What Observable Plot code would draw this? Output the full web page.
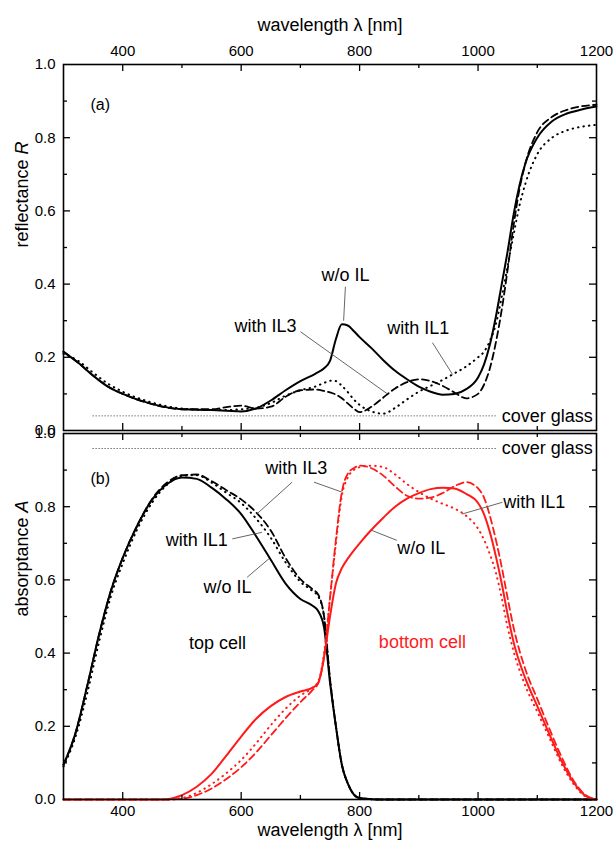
<!DOCTYPE html>
<html><head><meta charset="utf-8">
<script src="https://cdn.jsdelivr.net/npm/d3@7"></script>
<script src="https://cdn.jsdelivr.net/npm/@observablehq/plot@0.6"></script>
<style>
body{margin:0;background:#fff;}
#chart{position:relative;width:613px;height:848px;font-family:"Liberation Sans",Arial,sans-serif;}
#chart svg{position:absolute;left:0;overflow:visible;}
</style></head><body><div id="chart"></div>
<script>
// ---- data: panel (a) reflectance ----
const lamT = [300,325,350,375,400,450,500,550,575,600,625,650,675,700,725,740,750,760,770,780,790,800,820,840,860,880,900,920,940,960,980,1000,1010,1020,1030,1040,1050,1060,1070,1080,1100,1125,1150,1175,1200];
const R_woIL = [0.215,0.185,0.15,0.12,0.1,0.072,0.058,0.056,0.054,0.052,0.06,0.082,0.11,0.135,0.155,0.17,0.19,0.25,0.29,0.287,0.272,0.255,0.225,0.192,0.163,0.14,0.12,0.106,0.098,0.1,0.113,0.145,0.18,0.235,0.31,0.4,0.49,0.59,0.67,0.73,0.8,0.845,0.866,0.877,0.885];
const R_IL3 = [0.215,0.185,0.15,0.12,0.1,0.072,0.058,0.058,0.064,0.068,0.06,0.065,0.092,0.11,0.112,0.108,0.104,0.098,0.088,0.074,0.06,0.05,0.065,0.09,0.115,0.132,0.14,0.135,0.122,0.104,0.088,0.1,0.125,0.17,0.24,0.33,0.44,0.56,0.66,0.73,0.815,0.857,0.876,0.886,0.89];
const R_IL1 = [0.21,0.19,0.158,0.128,0.106,0.076,0.06,0.056,0.056,0.058,0.062,0.075,0.095,0.11,0.12,0.13,0.136,0.135,0.122,0.105,0.085,0.07,0.052,0.046,0.062,0.085,0.106,0.122,0.138,0.156,0.175,0.2,0.215,0.245,0.29,0.365,0.45,0.535,0.615,0.675,0.755,0.8,0.82,0.83,0.835];
const coverR = 0.04;

// ---- data: panel (b) absorptance ----
const lamB = [300,320,340,360,380,400,425,450,475,500,525,550,575,600,625,650,675,700,720,730,740,750,760,770,780,790,800,820,840,860,880,900,920,940,960,980,1000,1010,1020,1030,1040,1050,1060,1080,1100,1120,1140,1160,1180,1200];
const Atop_woIL = [0.095,0.18,0.31,0.45,0.57,0.66,0.75,0.82,0.862,0.88,0.876,0.852,0.82,0.78,0.72,0.655,0.59,0.548,0.53,0.515,0.47,0.32,0.2,0.095,0.044,0.014,0.004,0.001,0,0,0,0,0,0,0,0,0,0,0,0,0,0,0,0,0,0,0,0,0,0];
const Atop_IL3 = [0.095,0.18,0.31,0.45,0.57,0.66,0.75,0.822,0.866,0.886,0.888,0.87,0.845,0.82,0.785,0.735,0.66,0.602,0.575,0.56,0.5,0.33,0.2,0.095,0.044,0.014,0.004,0.001,0,0,0,0,0,0,0,0,0,0,0,0,0,0,0,0,0,0,0,0,0,0];
const Atop_IL1 = [0.09,0.17,0.29,0.43,0.555,0.645,0.74,0.812,0.86,0.884,0.886,0.866,0.838,0.81,0.768,0.715,0.648,0.595,0.57,0.555,0.5,0.33,0.2,0.095,0.044,0.014,0.004,0.001,0,0,0,0,0,0,0,0,0,0,0,0,0,0,0,0,0,0,0,0,0,0];
const Abot_woIL = [0,0,0,0,0,0,0,0,0.001,0.012,0.035,0.07,0.12,0.172,0.22,0.255,0.28,0.295,0.305,0.318,0.39,0.5,0.59,0.632,0.658,0.68,0.7,0.737,0.77,0.8,0.822,0.837,0.848,0.852,0.85,0.835,0.81,0.78,0.73,0.665,0.59,0.505,0.43,0.33,0.255,0.18,0.108,0.05,0.012,0];
const Abot_IL1 = [0,0,0,0,0,0,0,0,0,0.004,0.018,0.042,0.072,0.108,0.153,0.203,0.248,0.284,0.305,0.322,0.4,0.55,0.7,0.83,0.88,0.9,0.908,0.912,0.908,0.888,0.862,0.84,0.822,0.808,0.795,0.775,0.74,0.71,0.67,0.62,0.55,0.47,0.405,0.31,0.24,0.17,0.1,0.045,0.01,0];
const Abot_IL3 = [0,0,0,0,0,0,0,0,0,0.002,0.012,0.03,0.056,0.088,0.128,0.175,0.222,0.266,0.298,0.318,0.39,0.55,0.71,0.84,0.89,0.905,0.912,0.905,0.885,0.855,0.83,0.822,0.825,0.837,0.856,0.867,0.85,0.825,0.775,0.71,0.635,0.55,0.47,0.355,0.275,0.195,0.12,0.055,0.014,0];
const coverA = 0.959;

// ---- tick values ----
const xTickLabels = [400,600,800,1000,1200];
const xMajor = [400,600,800,1000];
const xMinor = [500,700,900,1100];
const yTickLabels = [0,0.2,0.4,0.6,0.8,1.0];
const yMajor = [0.2,0.4,0.6,0.8];
const yMinor = [0.1,0.3,0.5,0.7,0.9];

// ---- layout ----
const W = 613, ML = 63, MR = 17;
const FONT = "'Liberation Sans', Arial, sans-serif";
const RED = "#ff1a1a";
const LEAD = "#555";

const solid = {strokeWidth: 2};
const dashed = {strokeWidth: 1.8, strokeDasharray: "7,4"};
const dotted = {strokeWidth: 2, strokeDasharray: "0.5,5", strokeLinecap: "round"};

function series(lam, vals, color, style) {
  return Plot.line(lam, {x: d => d, y: (d, i) => vals[i], stroke: color, curve: "monotone-x", ...style});
}

function frameTicks(panelH) {
  const pw = W - ML - MR;
  return [
    Plot.tickX(xMajor, {x: d => d, insetBottom: panelH - 7, stroke: "black", strokeWidth: 1.3}),
    Plot.tickX(xMajor, {x: d => d, insetTop: panelH - 7, stroke: "black", strokeWidth: 1.3}),
    Plot.tickX(xMinor, {x: d => d, insetBottom: panelH - 4, stroke: "black", strokeWidth: 1.3}),
    Plot.tickX(xMinor, {x: d => d, insetTop: panelH - 4, stroke: "black", strokeWidth: 1.3}),
    Plot.tickY(yMajor, {y: d => d, insetRight: pw - 7, stroke: "black", strokeWidth: 1.3}),
    Plot.tickY(yMajor, {y: d => d, insetLeft: pw - 7, stroke: "black", strokeWidth: 1.3}),
    Plot.tickY(yMinor, {y: d => d, insetRight: pw - 4, stroke: "black", strokeWidth: 1.3}),
    Plot.tickY(yMinor, {y: d => d, insetLeft: pw - 4, stroke: "black", strokeWidth: 1.3}),
    Plot.frame({stroke: "black", strokeWidth: 1.6})
  ];
}

function label(x, y, t, opts = {}) {
  return Plot.text([t], {x: () => x, y: () => y, text: d => d, fontSize: 18, fill: "black", ...opts});
}
function leader(x1, y1, x2, y2) {
  return Plot.link([0], {x1: () => x1, y1: () => y1, x2: () => x2, y2: () => y2, stroke: LEAD, strokeWidth: 0.9});
}

// ---- panel (a) ----
const topH = 432, topMT = 64, topMB = 2;
const plotA = Plot.plot({
  width: W, height: topH,
  marginLeft: ML, marginRight: MR, marginTop: topMT, marginBottom: topMB,
  style: {fontFamily: FONT, fontSize: "15px", color: "black", background: "white"},
  x: {domain: [300, 1200]},
  y: {domain: [0, 1]},
  marks: [
    Plot.axisX({anchor: "top", ticks: xTickLabels, tickSize: 0, tickPadding: 9, tickFormat: d => String(d), label: null}),
    Plot.axisY({anchor: "left", ticks: yTickLabels, tickSize: 0, tickPadding: 8, tickFormat: d3.format(".1f"), label: null}),
    Plot.text(["wavelength λ [nm]"], {frameAnchor: "top", dy: -46, text: d => d, fontSize: 18}),
    Plot.text(["reflectance R"], {frameAnchor: "left", dx: -41, rotate: -90, text: d => d, fontSize: 18}),
    Plot.ruleY([coverR], {y: d => d, x1: 350, x2: 1033, stroke: "#333", strokeWidth: 1, strokeDasharray: "1,2"}),
    label(1040, coverR, "cover glass", {textAnchor: "start"}),
    series(lamT, R_IL1, "black", dotted),
    series(lamT, R_IL3, "black", dashed),
    series(lamT, R_woIL, "black", solid),
    label(362, 0.89, "(a)", {fontSize: 16}),
    label(776, 0.423, "w/o IL"),
    leader(776, 0.393, 773, 0.30),
    label(641, 0.285, "with IL3"),
    leader(700, 0.27, 847, 0.100),
    label(899, 0.279, "with IL1"),
    leader(923, 0.24, 957, 0.153),
    ...frameTicks(topH - topMT - topMB)
  ]
});

// ---- panel (b) ----
const botOff = 432, botH = 416, botMT = 1, botMB = 49;
const plotB = Plot.plot({
  width: W, height: botH,
  marginLeft: ML, marginRight: MR, marginTop: botMT, marginBottom: botMB,
  style: {fontFamily: FONT, fontSize: "15px", color: "black", background: "transparent"},
  x: {domain: [300, 1200]},
  y: {domain: [0, 1]},
  marks: [
    Plot.axisX({anchor: "bottom", ticks: xTickLabels, tickSize: 0, tickPadding: 6, tickFormat: d => String(d), label: null}),
    Plot.axisY({anchor: "left", ticks: yTickLabels, tickSize: 0, tickPadding: 8, tickFormat: d3.format(".1f"), label: null}),
    Plot.text(["wavelength λ [nm]"], {frameAnchor: "bottom", dy: 36, text: d => d, fontSize: 18}),
    Plot.text(["absorptance A"], {frameAnchor: "left", dx: -41, rotate: -90, text: d => d, fontSize: 18}),
    Plot.ruleY([coverA], {y: d => d, x1: 350, x2: 1033, stroke: "#333", strokeWidth: 1, strokeDasharray: "1,2"}),
    label(1040, coverA, "cover glass", {textAnchor: "start"}),
    series(lamB, Atop_IL1, "black", dotted),
    series(lamB, Atop_IL3, "black", dashed),
    series(lamB, Atop_woIL, "black", solid),
    series(lamB, Abot_IL1, RED, dotted),
    series(lamB, Abot_IL3, RED, dashed),
    series(lamB, Abot_woIL, RED, solid),
    label(362, 0.877, "(b)", {fontSize: 16}),
    label(693, 0.904, "with IL3"),
    leader(686, 0.867, 627, 0.781),
    leader(723, 0.867, 770, 0.84),
    label(525, 0.708, "with IL1"),
    leader(585, 0.712, 635, 0.73),
    label(577, 0.579, "w/o IL"),
    leader(610, 0.607, 647, 0.658),
    label(560, 0.426, "top cell"),
    label(906, 0.429, "bottom cell", {fill: RED}),
    label(904, 0.686, "w/o IL"),
    leader(863, 0.708, 821, 0.735),
    label(1095, 0.811, "with IL1"),
    leader(1041, 0.812, 973, 0.78),
    ...frameTicks(botH - botMT - botMB)
  ]
});

plotA.style.top = "0px";
plotB.style.top = botOff + "px";
const chart = document.getElementById("chart");
chart.appendChild(plotA);
chart.appendChild(plotB);

// italic symbols in the y-axis titles
for (const svg of [plotA, plotB]) {
  svg.querySelectorAll("text").forEach(t => {
    const s = t.textContent;
    if (s === "reflectance R" || s === "absorptance A") {
      const sym = s.slice(-1);
      t.textContent = s.slice(0, -1);
      const ts = document.createElementNS("http://www.w3.org/2000/svg", "tspan");
      ts.setAttribute("font-style", "italic");
      ts.textContent = sym;
      t.appendChild(ts);
    }
  });
}
</script></body></html>
